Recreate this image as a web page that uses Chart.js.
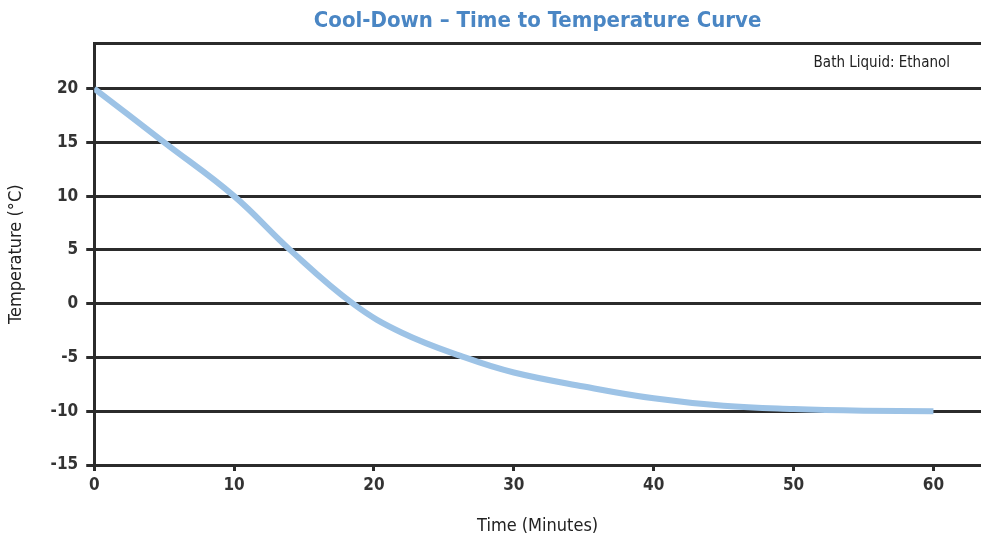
<!DOCTYPE html>
<html>
<head>
<meta charset="utf-8">
<script src="https://cdn.jsdelivr.net/npm/chart.js@4.4.0/dist/chart.umd.min.js"></script>
<style>
  html, body { margin: 0; padding: 0; background: #fff; }
  #wrap { width: 981px; height: 541px; }
</style>
</head>
<body>
<div id="wrap"><canvas id="coolChart"></canvas></div>
<script>
// Curva de resfriamento
const timeMinutes = [0, 5, 10, 14, 18.5, 22, 26.5, 30, 35, 40, 45, 50, 55, 60];
const tempC = [20, 15, 10, 5, 0, -2.7, -5, -6.4, -7.7, -8.8, -9.5, -9.8, -9.95, -10];
const xTicks = [0, 10, 20, 30, 40, 50, 60];
const yTicks = [-15, -10, -5, 0, 5, 10, 15, 20];

const FONT = "'Liberation Sans Narrow', 'DejaVu Sans Condensed', 'Liberation Sans', sans-serif";
const DARK = '#2b2b2b';

// Texto de anotação no canto superior direito
const noteText = {
    id: 'noteText',
    afterDraw(chart) {
        const { ctx, chartArea } = chart;
        ctx.save();
        ctx.font = `15px ${FONT}`;
        ctx.fillStyle = '#222';
        ctx.textAlign = 'right';
        ctx.textBaseline = 'middle';
        ctx.fillText('Bath Liquid: Ethanol', chartArea.right - 31, chartArea.top + 20);
        ctx.restore();
    }
};

const ctx = document.getElementById('coolChart').getContext('2d');
new Chart(ctx, {
    type: 'line',
    data: {
        datasets: [{
            data: timeMinutes.map((t, i) => ({ x: t, y: tempC[i] })),
            borderColor: '#9dc3e6',
            borderWidth: 6,
            pointRadius: 0,
            tension: 0.4,
            fill: false
        }]
    },
    options: {
        responsive: true,
        maintainAspectRatio: false,
        animation: false,
        layout: { padding: { left: 2, right: 0, top: 0, bottom: 0 } },
        plugins: {
            legend: { display: false },
            tooltip: { enabled: false },
            title: {
                display: true,
                fullSize: false,
                text: 'Cool-Down \u2013 Time to Temperature Curve',
                color: '#4a86c4',
                font: { family: FONT, size: 22, weight: 'bold' },
                padding: { top: 8, bottom: 1 }
            }
        },
        scales: {
            x: {
                type: 'linear',
                min: 0,
                max: 63.4,
                afterBuildTicks: s => { s.ticks = xTicks.map(v => ({ value: v })); },
                ticks: {
                    color: '#333',
                    font: { family: FONT, size: 17, weight: 'bold' },
                    padding: 4
                },
                grid: { drawOnChartArea: false, drawTicks: true, tickLength: 6, color: DARK, lineWidth: 3 },
                border: { display: true, color: DARK, width: 3 },
                title: {
                    display: true,
                    text: 'Time (Minutes)',
                    color: '#222',
                    font: { family: FONT, size: 18 },
                    padding: { top: 16 }
                }
            },
            xTop: {
                type: 'linear',
                position: 'top',
                min: 0,
                max: 63.4,
                ticks: { display: false },
                grid: { display: false },
                border: { display: true, color: DARK, width: 3 }
            },
            y: {
                type: 'linear',
                min: -15,
                max: 24.2,
                afterBuildTicks: s => { s.ticks = yTicks.map(v => ({ value: v })); },
                ticks: {
                    color: '#333',
                    font: { family: FONT, size: 17, weight: 'bold' },
                    padding: 8
                },
                grid: { drawTicks: true, tickLength: 8, color: DARK, lineWidth: 3 },
                border: { display: true, color: DARK, width: 3 },
                title: {
                    display: true,
                    text: 'Temperature (\u00b0C)',
                    color: '#222',
                    font: { family: FONT, size: 18 },
                    padding: { bottom: 15 }
                }
            }
        }
    },
    plugins: [noteText]
});
</script>
</body>
</html>
